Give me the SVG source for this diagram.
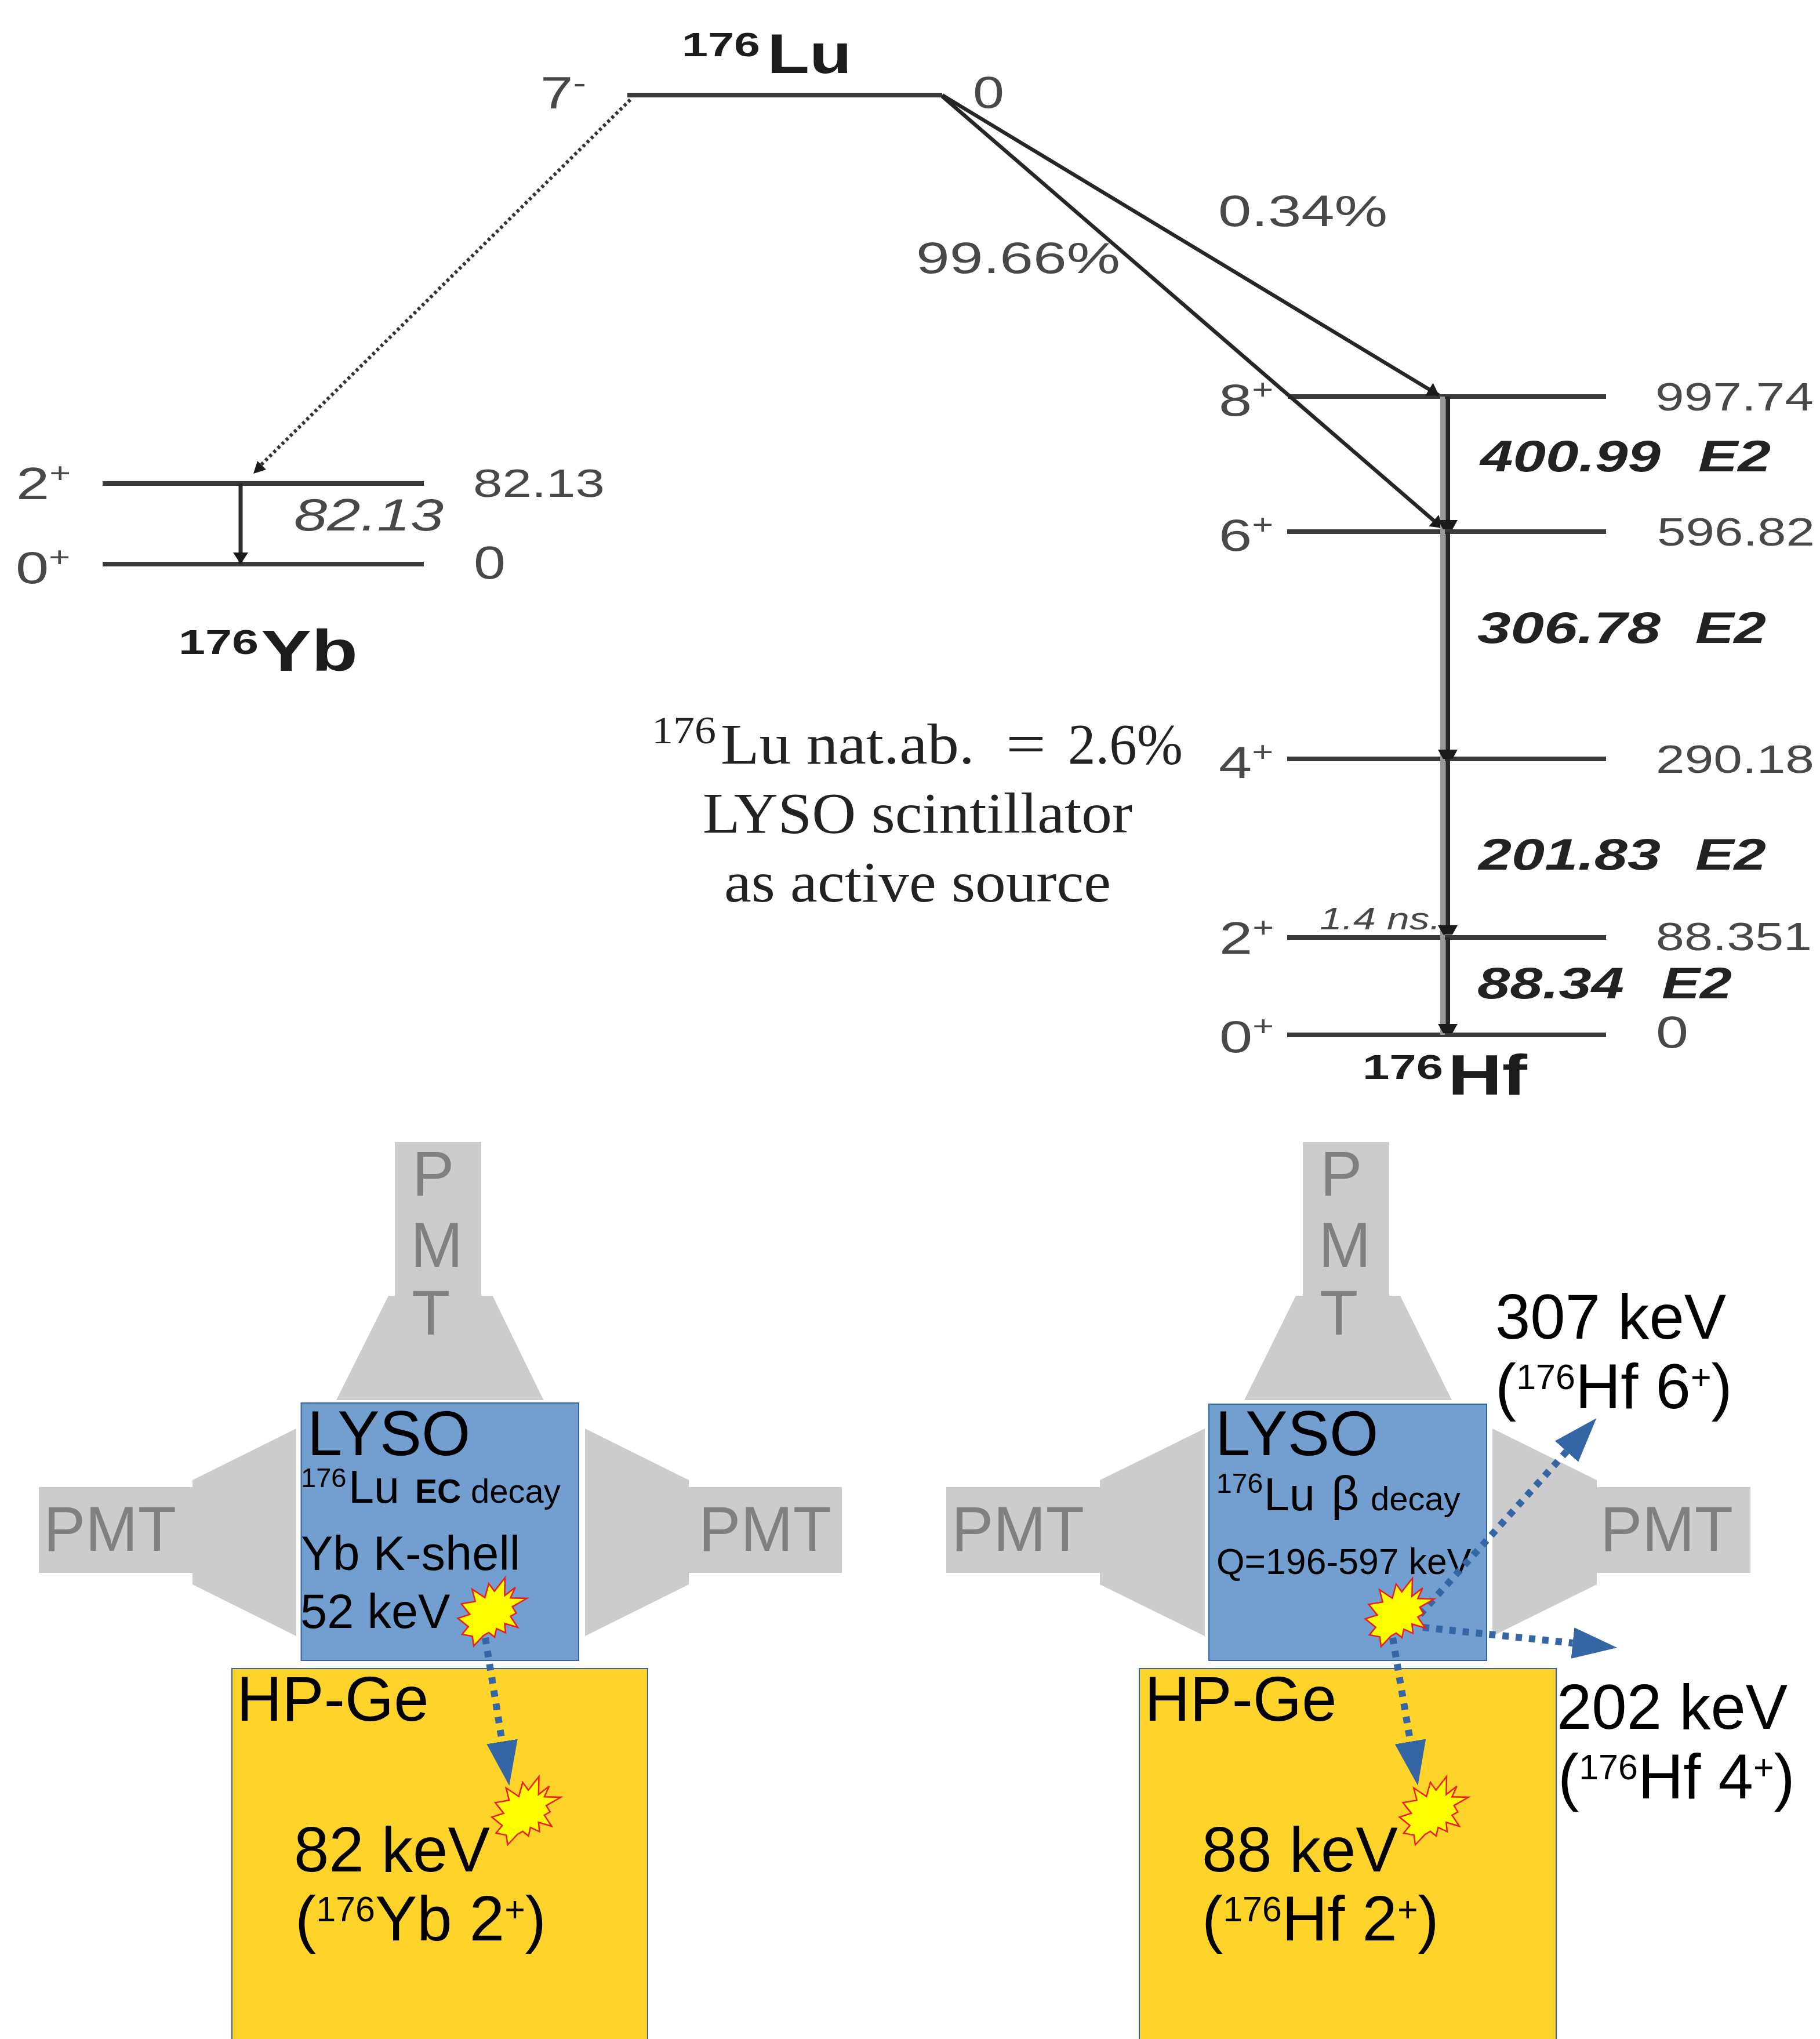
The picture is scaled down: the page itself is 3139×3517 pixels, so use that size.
<svg xmlns="http://www.w3.org/2000/svg" width="3139" height="3517" viewBox="0 0 3139 3517">
<style>
text{font-family:"Liberation Sans",Arial,sans-serif}
.g{fill:#484848}
.it{font-style:italic}
.be{font-weight:bold;font-style:italic;fill:#222}
.b{font-weight:bold;fill:#1c1c1c}
.cm{font-family:"Liberation Serif","Times New Roman",serif;fill:#222}
.lv{stroke:#3a3a3a;stroke-width:8;fill:none}
.dk{stroke:#262626;stroke-width:8;fill:none}
.dg{stroke:#262626;stroke-width:6.5;fill:none}
.lt{stroke:#999;stroke-width:8;fill:none}
.bt{stroke:#2a2a2a;stroke-width:7;fill:none}
.dc{stroke:#333;stroke-width:6;stroke-dasharray:5 5;fill:none}
.bl{stroke:#3465a4;stroke-width:12;stroke-dasharray:11 12;fill:none;marker-end:url(#bh)}
.pm{fill:#ccc}
.pt{fill:#808080;font-size:108.5px}
.ly{fill:#729fcf;stroke:#3465a4;stroke-width:2}
.hp{fill:#ffd42a;stroke:#3465a4;stroke-width:2}
.k{fill:#000}
.s{fill:#ff0;stroke:#f01a1a;stroke-width:2.5;stroke-linejoin:miter}
</style>
<defs>
<marker id="bh" markerUnits="userSpaceOnUse" viewBox="0 -28 78 56" refX="0" refY="0" markerWidth="78" markerHeight="56" orient="auto"><path d="M0,-27L77,0L0,27Z" fill="#3465a4"/></marker>
<marker id="sm" markerUnits="userSpaceOnUse" viewBox="-18 -20 20 40" refX="0" refY="0" markerWidth="20" markerHeight="40" orient="auto"><path d="M-16,-17L0,-8V8L-16,17Z" fill="#1a1a1a"/></marker>
<marker id="sa" markerUnits="userSpaceOnUse" viewBox="-22 -14 24 28" refX="0" refY="0" markerWidth="24" markerHeight="28" orient="auto"><path d="M-20,-13L0,0L-20,13Z" fill="#1a1a1a"/></marker>
<polygon id="star" class="s" points="22,-58.7 21.3,-27.7 39.7,-42 31.3,-23.7 59.7,-23 34.7,-8.7 41.3,2.3 31.3,8 44,27 21.3,20.3 23,36.3 7.3,29 4,43.7 -6,35.7 -15.3,41.3 -32,59 -34.3,42.3 -52,39 -41.3,25.7 -59.3,11.3 -38.7,4.7 -53.3,-13.7 -29.3,-17.7 -34.7,-39 -12.7,-24.3 -6,-48.7 3.7,-35.3"/>
</defs>
<rect width="3139" height="3517" fill="#fff"/>

<g id="level-lu">
<path class="lv" d="M1082,164H1625"/>
<text class="b" x="1176" y="97" font-size="58" textLength="135" lengthAdjust="spacingAndGlyphs">176</text>
<text class="b" x="1323" y="126" font-size="96" textLength="146" lengthAdjust="spacingAndGlyphs">Lu</text>
<text class="g" transform="translate(932,187) scale(1.3,1)" font-size="78">7<tspan font-size="52" dy="-26">-</tspan></text>
<text class="g" x="1678" y="186" font-size="78" textLength="54" lengthAdjust="spacingAndGlyphs">0</text>
</g>
<g id="level-yb-2">
<path class="lv" d="M177,834H731"/>
<text class="g" transform="translate(28,861) scale(1.32,1)" font-size="78">2<tspan font-size="48" dy="-29">+</tspan></text>
<text class="g" x="816" y="857" font-size="68" textLength="227" lengthAdjust="spacingAndGlyphs">82.13</text>
<text class="g it" x="507" y="915" font-size="78" textLength="258" lengthAdjust="spacingAndGlyphs">82.13</text>
</g>
<g id="level-yb-0">
<path class="lv" d="M177,973H731"/>
<text class="g" transform="translate(27,1006) scale(1.32,1)" font-size="78">0<tspan font-size="48" dy="-29">+</tspan></text>
<text class="g" x="817" y="998" font-size="80" textLength="55" lengthAdjust="spacingAndGlyphs">0</text>
<text class="b" x="308" y="1128" font-size="60" textLength="138" lengthAdjust="spacingAndGlyphs">176</text>
<text class="b" x="450" y="1157" font-size="100" textLength="167" lengthAdjust="spacingAndGlyphs">Yb</text>
</g>
<g id="branching">
<text class="g" x="2101" y="390" font-size="76" textLength="292" lengthAdjust="spacingAndGlyphs">0.34%</text>
<text class="g" x="1580" y="471" font-size="76" textLength="352" lengthAdjust="spacingAndGlyphs">99.66%</text>
</g>
<g id="level-hf-8">
<path class="lv" d="M2221,684H2770"/>
<text class="g" transform="translate(2102,717) scale(1.32,1)" font-size="78">8<tspan font-size="48" dy="-29">+</tspan></text>
<text class="g" x="2855" y="708" font-size="68" textLength="273" lengthAdjust="spacingAndGlyphs">997.74</text>
<text class="be" x="2553" y="813" font-size="76" textLength="311" lengthAdjust="spacingAndGlyphs">400.99</text>
<text class="be" x="2929" y="813" font-size="76" textLength="125" lengthAdjust="spacingAndGlyphs">E2</text>
</g>
<g id="level-hf-6">
<path class="lv" d="M2220,917H2770"/>
<text class="g" transform="translate(2102,950) scale(1.32,1)" font-size="78">6<tspan font-size="48" dy="-29">+</tspan></text>
<text class="g" x="2858" y="941" font-size="68" textLength="272" lengthAdjust="spacingAndGlyphs">596.82</text>
<text class="be" x="2548" y="1109" font-size="76" textLength="316" lengthAdjust="spacingAndGlyphs">306.78</text>
<text class="be" x="2924" y="1109" font-size="76" textLength="122" lengthAdjust="spacingAndGlyphs">E2</text>
</g>
<g id="level-hf-4">
<path class="lv" d="M2220,1309H2770"/>
<text class="g" transform="translate(2102,1342) scale(1.32,1)" font-size="78">4<tspan font-size="48" dy="-29">+</tspan></text>
<text class="g" x="2856" y="1333" font-size="68" textLength="273" lengthAdjust="spacingAndGlyphs">290.18</text>
<text class="be" x="2550" y="1500" font-size="76" textLength="314" lengthAdjust="spacingAndGlyphs">201.83</text>
<text class="be" x="2924" y="1500" font-size="76" textLength="122" lengthAdjust="spacingAndGlyphs">E2</text>
</g>
<g id="level-hf-2">
<path class="lv" d="M2220,1617H2770"/>
<text class="g" transform="translate(2103,1645) scale(1.32,1)" font-size="78">2<tspan font-size="48" dy="-29">+</tspan></text>
<text class="g" x="2856" y="1639" font-size="68" textLength="269" lengthAdjust="spacingAndGlyphs">88.351</text>
<text class="g it" x="2276" y="1603" font-size="54" textLength="209" lengthAdjust="spacingAndGlyphs">1.4 ns.</text>
<text class="be" x="2548" y="1722" font-size="76" textLength="253" lengthAdjust="spacingAndGlyphs">88.34</text>
<text class="be" x="2866" y="1722" font-size="76" textLength="121" lengthAdjust="spacingAndGlyphs">E2</text>
</g>
<g id="level-hf-0">
<path class="lv" d="M2220,1785H2770"/>
<text class="g" transform="translate(2103,1815) scale(1.32,1)" font-size="78">0<tspan font-size="48" dy="-29">+</tspan></text>
<text class="g" x="2856" y="1807" font-size="78" textLength="56" lengthAdjust="spacingAndGlyphs">0</text>
<text class="b" x="2350" y="1861" font-size="60" textLength="139" lengthAdjust="spacingAndGlyphs">176</text>
<text class="b" x="2497" y="1888" font-size="98" textLength="137" lengthAdjust="spacingAndGlyphs">Hf</text>
</g>

<g id="caption">
<text class="cm" x="1124" y="1282" font-size="68" textLength="111" lengthAdjust="spacingAndGlyphs">176</text>
<text class="cm" x="1243" y="1317" font-size="100" textLength="438" lengthAdjust="spacingAndGlyphs">Lu nat.ab.</text>
<text class="cm" x="1735" y="1317" font-size="100" textLength="69" lengthAdjust="spacingAndGlyphs">=</text>
<text class="cm" x="1842" y="1317" font-size="100" textLength="198" lengthAdjust="spacingAndGlyphs">2.6%</text>
<text class="cm" x="1212" y="1436" font-size="100" textLength="741" lengthAdjust="spacingAndGlyphs">LYSO scintillator</text>
<text class="cm" x="1249" y="1555" font-size="100" textLength="667" lengthAdjust="spacingAndGlyphs">as active source</text>
</g>

<g id="left-pmt-top">
<polygon class="pm" points="681,1970 830,1970 830,2235 849.5,2235 937.5,2415 580,2415 670,2235 681,2235"/>
<text class="pt" x="711" y="2062">P</text><text class="pt" x="708" y="2185">M</text><text class="pt" x="710" y="2302">T</text>
</g>
<g id="left-pmt-left">
<polygon class="pm" points="67,2565 332,2565 332,2553 511,2464 511,2822 332,2733 332,2713 67,2713"/>
<text class="pt" x="75" y="2675">PMT</text>
</g>
<g id="left-pmt-right">
<polygon class="pm" points="1009,2464 1188,2553 1188,2565 1452,2565 1452,2713 1188,2713 1188,2733 1009,2822"/>
<text class="pt" x="1205" y="2675">PMT</text>
</g>
<g id="left-lyso">
<rect class="ly" x="519.5" y="2420" width="478.5" height="444"/>
<text class="k" x="530" y="2510" font-size="108.5">LYSO</text>
<text class="k" x="519" y="2565" font-size="47">176</text>
<text class="k" x="601" y="2592" font-size="79">Lu</text>
<text class="k" x="716" y="2592" font-size="57" font-weight="bold">EC</text>
<text class="k" x="812" y="2592" font-size="58">decay</text>
<text class="k" x="519" y="2708" font-size="83">Yb K-shell</text>
<text class="k" x="518" y="2808" font-size="83">52 keV</text>
</g>
<g id="left-hpge">
<rect class="hp" x="400" y="2878" width="717" height="660"/>
<text class="k" x="408" y="2968" font-size="108.5">HP-Ge</text>
<text class="k" x="507" y="3228" font-size="108.5">82 keV</text>
<text class="k" x="509" y="3347" font-size="108.5">(<tspan font-size="61" dy="-33">176</tspan><tspan dy="33">Yb 2</tspan><tspan font-size="61" dy="-33">+</tspan><tspan dy="33">)</tspan></text>
</g>

<g id="right-pmt-top">
<polygon class="pm" points="2247,1970 2396,1970 2396,2235 2415,2235 2504,2415 2146,2415 2235,2235 2247,2235"/>
<text class="pt" x="2277" y="2062">P</text><text class="pt" x="2274" y="2185">M</text><text class="pt" x="2276" y="2302">T</text>
</g>
<g id="right-pmt-left">
<polygon class="pm" points="1632,2565 1897,2565 1897,2553 2078,2464 2078,2822 1897,2733 1897,2713 1632,2713"/>
<text class="pt" x="1641" y="2675">PMT</text>
</g>
<g id="right-pmt-right">
<polygon class="pm" points="2574,2464 2754,2553 2754,2565 3019,2565 3019,2713 2754,2713 2754,2733 2574,2822"/>
<text class="pt" x="2760" y="2675">PMT</text>
</g>
<g id="right-lyso">
<rect class="ly" x="2085" y="2422" width="479" height="442"/>
<text class="k" x="2096" y="2510" font-size="108.5">LYSO</text>
<text class="k" x="2098" y="2575" font-size="48">176</text>
<text class="k" x="2180" y="2605" font-size="79">Lu</text>
<text class="k" x="2296" y="2605" font-size="84">β</text>
<text class="k" x="2364" y="2605" font-size="58">decay</text>
<text class="k" x="2098" y="2715" font-size="62.5">Q=196-597 keV</text>
</g>
<g id="right-hpge">
<rect class="hp" x="1965" y="2878" width="719" height="660"/>
<text class="k" x="1974" y="2968" font-size="108.5">HP-Ge</text>
<text class="k" x="2073" y="3228" font-size="108.5">88 keV</text>
<text class="k" x="2073" y="3347" font-size="108.5">(<tspan font-size="61" dy="-33">176</tspan><tspan dy="33">Hf 2</tspan><tspan font-size="61" dy="-33">+</tspan><tspan dy="33">)</tspan></text>
</g>
<g id="label-307">
<text class="k" x="2579" y="2309" font-size="108.5">307 keV</text>
<text class="k" x="2579" y="2429" font-size="108.5">(<tspan font-size="61" dy="-33">176</tspan><tspan dy="33">Hf 6</tspan><tspan font-size="61" dy="-33">+</tspan><tspan dy="33">)</tspan></text>
</g>
<g id="label-202">
<text class="k" x="2685" y="2982" font-size="108.5">202 keV</text>
<text class="k" x="2687" y="3102" font-size="108.5">(<tspan font-size="61" dy="-33">176</tspan><tspan dy="33">Hf 4</tspan><tspan font-size="61" dy="-33">+</tspan><tspan dy="33">)</tspan></text>
</g>

<g id="connectors">
<path class="dc" d="M1087,172L446,806"/>
<path d="M437,817L444,795L459,810Z" fill="#1a1a1a"/>
<path class="bt" d="M415,834V973" marker-end="url(#sa)"/>
<path class="dg" d="M1625,164L2482,682" marker-end="url(#sa)"/>
<path class="dg" d="M1625,166L2488,911" marker-end="url(#sa)"/>
<path class="lt" d="M2488,684V1785"/>
<path class="dk" d="M2497,684V913" marker-end="url(#sm)"/>
<path class="dk" d="M2497,917V1309" marker-end="url(#sm)"/>
<path class="dk" d="M2497,1309V1612" marker-end="url(#sm)"/>
<path class="dk" d="M2497,1617V1782" marker-end="url(#sm)"/>
<path class="bl" d="M837,2825L866,3004"/>
<path class="bl" d="M2449,2785L2702,2503.5"/>
<path class="bl" d="M2454,2807L2712.5,2834"/>
<path class="bl" d="M2402,2825L2432.5,3004"/>
</g>

<g id="flash-left-lyso"><use href="#star" x="849" y="2780"/></g>
<g id="flash-left-hpge"><use href="#star" x="907.5" y="3123"/></g>
<g id="flash-right-lyso"><use href="#star" x="2414" y="2781"/></g>
<g id="flash-right-hpge"><use href="#star" x="2473" y="3123"/></g>
</svg>
